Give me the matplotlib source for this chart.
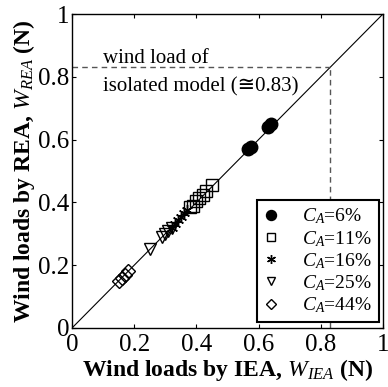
import numpy as np
import matplotlib as mpl
mpl.use('Agg')
import matplotlib.pyplot as plt

mpl.rcParams['font.family'] = ['Liberation Serif', 'DejaVu Sans']
mpl.rcParams['mathtext.fontset'] = 'custom'
mpl.rcParams['mathtext.rm'] = 'Liberation Serif'
mpl.rcParams['mathtext.it'] = 'Liberation Serif:italic'
mpl.rcParams['mathtext.bf'] = 'Liberation Serif:bold'
mpl.rcParams['xtick.direction'] = 'in'
mpl.rcParams['ytick.direction'] = 'in'

# CA ratio groups
labels = ['6%', '11%', '16%', '25%', '44%']
markers = ['o', 's', '*', 'v', 'D']
# wind loads by IEA (x) and REA (y)
iea_6 = [0.565, 0.575, 0.63, 0.64]
rea_6 = [0.57, 0.575, 0.64, 0.65]
iea_11 = [0.38, 0.39, 0.40, 0.41, 0.42, 0.43, 0.45]
rea_11 = [0.385, 0.39, 0.405, 0.415, 0.425, 0.435, 0.455]
iea_16 = [0.32, 0.33, 0.34, 0.35, 0.36, 0.37]
rea_16 = [0.32, 0.33, 0.345, 0.355, 0.365, 0.375]
iea_25 = [0.25, 0.29, 0.30, 0.31, 0.32]
rea_25 = [0.25, 0.29, 0.30, 0.31, 0.32]
iea_44 = [0.15, 0.16, 0.17, 0.18]
rea_44 = [0.15, 0.16, 0.17, 0.18]
isolated = 0.83

xs = [iea_6, iea_11, iea_16, iea_25, iea_44]
ys = [rea_6, rea_11, rea_16, rea_25, rea_44]

fig = plt.figure(figsize=(3.88, 3.87), dpi=100)
ax = fig.add_axes([0.1856, 0.1525, 0.8014, 0.8113])

ax.plot([0, 1], [0, 1], color='black', lw=0.8)
ax.plot([0, isolated], [isolated, isolated], ls='--', color='#555555', lw=1.0, dashes=(4, 3))
ax.plot([isolated, isolated], [0, isolated], ls='--', color='#555555', lw=1.0, dashes=(4, 3))

for x, y, m, lab in zip(xs, ys, markers, labels):
    lbl = r'$\mathit{C}_{\mathit{A}}$=' + lab
    if m == 'o':
        ax.plot(x, y, ls='none', marker='o', ms=9, mfc='black', mec='black', label=lbl)
    elif m == '*':
        ax.plot(x, y, ls='none', marker=(6, 2, 0), ms=8, color='black', mew=1.0, label=lbl)
    else:
        ax.plot(x, y, ls='none', marker=m, ms=8 if m != 'D' else 7,
                mfc='none', mec='black', mew=1.0, label=lbl)

ax.text(0.10, 0.844, 'wind load of', fontsize=15)
ax.text(0.10, 0.752, 'isolated model (\u22450.83)', fontsize=15,
        family=['Liberation Serif', 'DejaVu Sans'])

ax.set_xlim(0, 1)
ax.set_ylim(0, 1)
ticks = [0, 0.2, 0.4, 0.6, 0.8, 1]
ticklabels = ['0', '0.2', '0.4', '0.6', '0.8', '1']
ax.set_xticks(ticks)
ax.set_xticklabels(ticklabels)
ax.set_yticks(ticks)
ax.set_yticklabels(ticklabels)
ax.tick_params(labelsize=18, top=True, right=True, length=3, width=0.8)
ax.tick_params(axis='x', pad=4)
ax.tick_params(axis='y', pad=2)
for s in ax.spines.values():
    s.set_linewidth(1.0)

ax.set_xlabel(r'Wind loads by IEA, $\mathit{W}_{\mathit{IEA}}$ (N)',
              fontsize=17, fontweight='bold', labelpad=1)
ax.set_ylabel(r'Wind loads by REA, $\mathit{W}_{\mathit{REA}}$ (N)',
              fontsize=17, fontweight='bold', labelpad=1)

leg = ax.legend(loc='lower right', bbox_to_anchor=(0.987, 0.019), borderaxespad=0,
                fontsize=14, fancybox=False, edgecolor='black', framealpha=1,
                handlelength=0.8, handletextpad=1.2, labelspacing=0.13,
                borderpad=0.35, markerscale=0.8)
leg.get_frame().set_linewidth(1.5)

fig.savefig('out.png', dpi=100)
